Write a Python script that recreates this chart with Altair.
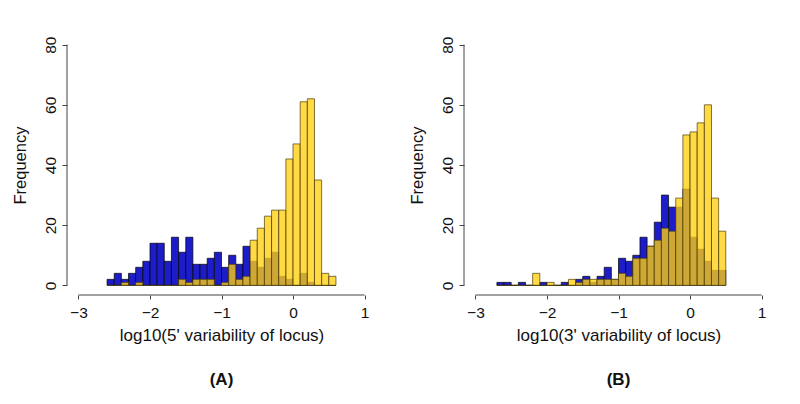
import altair as alt
import pandas as pd

# Panel A: log10(5' variability of locus)
edges_a = [-2.6, -2.5, -2.4, -2.3, -2.2, -2.1, -2.0, -1.9, -1.8, -1.7, -1.6,
           -1.5, -1.4, -1.3, -1.2, -1.1, -1.0, -0.9, -0.8, -0.7, -0.6, -0.5,
           -0.4, -0.3, -0.2, -0.1, 0.0, 0.1, 0.2, 0.3, 0.4, 0.5, 0.6]
blue_a = [2, 4, 2, 4, 6, 8, 14, 14, 8, 16, 11, 16, 7, 7, 9, 11,
          6, 10, 7, 13, 8, 6, 9, 11, 3, 2, 0, 4, 1, 0, 0, 0]
yellow_a = [0, 0, 1, 0, 1, 0, 0, 0, 0, 0, 2, 1, 2, 2, 2, 0,
            1, 7, 2, 3, 15, 19, 23, 25, 25, 42, 47, 61, 62, 35, 4, 3]

# Panel B: log10(3' variability of locus)
edges_b = [-2.7, -2.6, -2.5, -2.4, -2.3, -2.2, -2.1, -2.0, -1.9, -1.8, -1.7,
           -1.6, -1.5, -1.4, -1.3, -1.2, -1.1, -1.0, -0.9, -0.8, -0.7, -0.6,
           -0.5, -0.4, -0.3, -0.2, -0.1, 0.0, 0.1, 0.2, 0.3, 0.4, 0.5]
blue_b = [1, 1, 0, 1, 0, 0, 1, 0, 0, 1, 0, 2, 3, 1, 3, 6,
          2, 9, 8, 10, 16, 13, 21, 30, 26, 26, 32, 16, 12, 8, 5, 5]
yellow_b = [0, 0, 0, 0, 0, 4, 0, 1, 0, 0, 2, 1, 2, 2, 2, 2,
            2, 4, 3, 9, 9, 13, 15, 19, 18, 29, 50, 51, 54, 60, 29, 18]

x_ticks = [-3, -2, -1, 0, 1]
y_ticks = [0, 20, 40, 60, 80]

FONT = "Liberation Sans"
BLUE = "#1c1cc8"
YELLOW = "#ffcf10"
AXIS_COL = "#444444"
TXT = "#111111"

W, H = 309, 260


def panel(edges, blue, yellow, xtitle, label):
    df = pd.DataFrame({
        "start": edges[:-1],
        "end": edges[1:],
        "blue": blue,
        "yellow": yellow,
    })
    xs = alt.Scale(domain=[-3.16, 1.16], nice=False, zero=False)
    ys = alt.Scale(domain=[-3.2, 83.2], nice=False, zero=False)
    xaxis = alt.Axis(values=x_ticks, domain=False, grid=False, tickSize=4,
                     tickColor=AXIS_COL, labelFont=FONT, labelFontSize=15.5,
                     labelColor=TXT, labelBaseline="alphabetic", labelPadding=18,
                     labelFlush=False, format="d", title=xtitle, titleFont=FONT,
                     titleFontSize=17, titleFontWeight="normal", titleColor=TXT,
                     titleBaseline="alphabetic", titleY=45)
    yaxis = alt.Axis(values=y_ticks, domain=False, grid=False, tickSize=5,
                     tickColor=AXIS_COL, labelFont=FONT, labelFontSize=15.5,
                     labelColor=TXT, labelAngle=270, labelAlign="center",
                     labelBaseline="alphabetic", labelPadding=7, labelFlush=False,
                     title="Frequency", titleFont=FONT, titleFontSize=16.5,
                     titleFontWeight="normal", titleColor=TXT, titleAngle=270,
                     titleBaseline="alphabetic", titleX=-42)
    base = alt.Chart(df)
    blue_bars = base.mark_bar(color=BLUE, stroke="#000000", strokeWidth=0.7).encode(
        x=alt.X("start:Q", scale=xs, axis=xaxis, title=xtitle),
        x2="end:Q",
        y=alt.Y("blue:Q", scale=ys, axis=yaxis, title="Frequency"),
        y2=alt.datum(0),
    )
    yellow_bars = base.mark_bar(color=YELLOW, fillOpacity=0.78, stroke="#4a3c08",
                                strokeWidth=0.7).encode(
        x=alt.X("start:Q", scale=xs, title=xtitle),
        x2="end:Q",
        y=alt.Y("yellow:Q", scale=ys, title="Frequency"),
        y2=alt.datum(0),
    )
    xline = alt.Chart(pd.DataFrame({"a": [x_ticks[0]], "b": [x_ticks[-1]], "c": [-3.2]})).mark_rule(
        color=AXIS_COL, strokeWidth=1).encode(
        x=alt.X("a:Q", scale=xs, title=xtitle), x2="b:Q",
        y=alt.Y("c:Q", scale=ys, title="Frequency"))
    yline = alt.Chart(pd.DataFrame({"a": [-3.16], "c": [y_ticks[0]], "d": [y_ticks[-1]]})).mark_rule(
        color=AXIS_COL, strokeWidth=1).encode(
        x=alt.X("a:Q", scale=xs, title=xtitle),
        y=alt.Y("c:Q", scale=ys, title="Frequency"), y2="d:Q")
    return alt.layer(blue_bars, yellow_bars, xline, yline).properties(
        width=W, height=H,
        title=alt.TitleParams(label, orient="bottom", anchor="middle", font=FONT,
                              fontSize=17, fontWeight="bold", color=TXT, offset=29),
    )


pa = panel(edges_a, blue_a, yellow_a, "log10(5' variability of locus)", "(A)")
pb = panel(edges_b, blue_b, yellow_b, "log10(3' variability of locus)", "(B)")

chart = alt.hconcat(pa, pb, spacing=88, bounds="flush").properties(
    padding={"left": 4, "top": 27, "right": 5, "bottom": 5},
    background="white",
).configure_view(stroke=None)

chart.save("out.html", embed_options={"renderer": "svg", "actions": False})
